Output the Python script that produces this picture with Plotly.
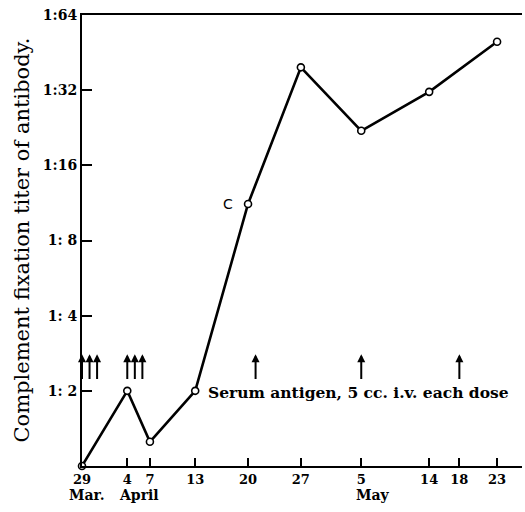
import numpy as np
import plotly.graph_objects as go

# Days since March 29 (Mar 29 = 0)
sample_days = [0, 6, 9, 15, 22, 29, 37, 46, 55]
titer = [1, 2, 1.25, 2, 11.2, 39.5, 22, 31.5, 50]

tick_days = [0, 6, 9, 15, 22, 29, 37, 46, 50, 55]
tick_labels = ["29", "4", "7", "13", "20", "27", "5", "14", "18", "23"]

dose_days = [0, 1, 2, 6, 7, 8, 23, 37, 50]

y_ticks = [2, 4, 8, 16, 32, 64]
y_labels = ["1: 2", "1: 4", "1: 8", "1:16", "1:32", "1:64"]

month_days = [0.7, 7.5, 38.5]
month_labels = ["Mar.", "April", "May"]

FONT = "DejaVu Serif"

fig = go.Figure()
fig.add_trace(go.Scatter(
    x=sample_days, y=titer, mode="lines+markers",
    line=dict(color="black", width=2.6),
    marker=dict(symbol="circle", size=7, color="white",
                line=dict(color="black", width=1.6)),
    showlegend=False, cliponaxis=False,
))

annotations = []
for d in dose_days:
    annotations.append(dict(
        x=d, y=np.log10(2.8), ax=d, ay=np.log10(2.2),
        xref="x", yref="y", axref="x", ayref="y",
        showarrow=True, arrowhead=2, arrowsize=0.8, arrowwidth=2,
        arrowcolor="black", text="",
    ))

for d, m in zip(month_days, month_labels):
    annotations.append(dict(
        x=d, y=0, xref="x", yref="paper", yanchor="top", yshift=-19,
        text="<b>" + m + "</b>", showarrow=False,
        font=dict(family=FONT, size=14, color="black"),
    ))

annotations.append(dict(
    x=22, y=np.log10(11.2), xref="x", yref="y", xshift=-20,
    text="C", showarrow=False, font=dict(family="DejaVu Sans", size=14, color="black"),
))
annotations.append(dict(
    x=15, y=np.log10(2), xref="x", yref="y", xanchor="left", xshift=11, yshift=-2,
    text="<b>Serum antigen, 5 cc. i.v. each dose</b>", showarrow=False,
    font=dict(family=FONT, size=15.5, color="black"),
))
annotations.append(dict(
    x=0, y=0.5, xref="paper", yref="paper", xanchor="center", yanchor="middle",
    xshift=-61, yshift=-0, textangle=-90,
    text="Complement fixation titer of antibody.", showarrow=False,
    font=dict(family=FONT, size=21, color="black"),
))

fig.update_layout(
    width=525, height=512,
    margin=dict(l=82, r=3, t=15, b=46),
    paper_bgcolor="white", plot_bgcolor="white",
    font=dict(family=FONT, color="black"),
    annotations=annotations,
    xaxis=dict(
        range=[0, 58.3], tickmode="array", tickvals=tick_days,
        ticktext=["<b>" + t + "</b>" for t in tick_labels],
        ticks="inside", ticklen=8, tickwidth=1.5, tickcolor="black",
        showline=True, linecolor="black", linewidth=2, mirror=True,
        showgrid=False, zeroline=False, automargin=False,
        tickfont=dict(family=FONT, size=13, color="black"),
    ),
    yaxis=dict(
        type="log", range=[0, np.log10(64)],
        tickmode="array", tickvals=y_ticks,
        ticktext=["<b>" + t + "</b>" for t in y_labels],
        ticks="inside", ticklen=10, tickwidth=1.5, tickcolor="black",
        showline=True, linecolor="black", linewidth=2,
        showgrid=False, zeroline=False, automargin=False,
        ticklabeloverflow="allow",
        tickfont=dict(family=FONT, size=14, color="black"),
    ),
)

fig.write_html("out.html", config={"displayModeBar": False},
               post_script="document.body.style.margin='0';")
